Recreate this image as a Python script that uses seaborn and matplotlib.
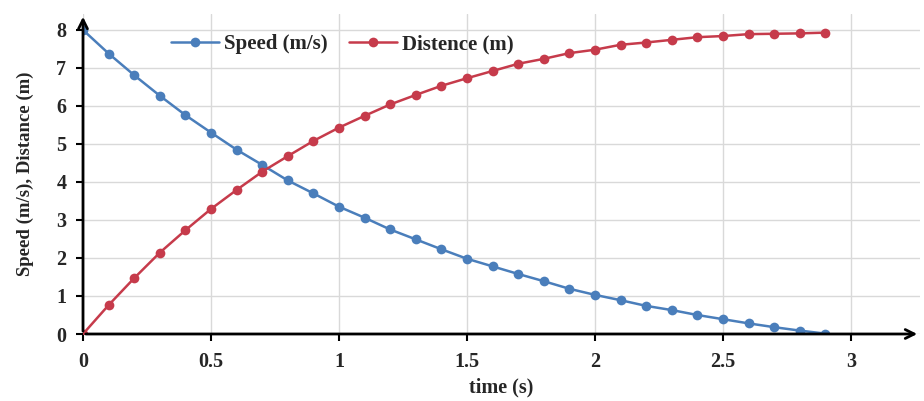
import matplotlib
matplotlib.use("Agg")
import matplotlib.pyplot as plt
import seaborn as sns
import pandas as pd

time = [round(0.1 * i, 1) for i in range(30)]
speed = [8.00, 7.38, 6.81, 6.27, 5.76, 5.30, 4.85, 4.45, 4.04, 3.70,
         3.35, 3.06, 2.75, 2.49, 2.23, 1.98, 1.78, 1.58, 1.39, 1.19,
         1.03, 0.89, 0.74, 0.63, 0.50, 0.39, 0.28, 0.18, 0.09, 0.01]
distance = [0.00, 0.76, 1.47, 2.14, 2.73, 3.29, 3.79, 4.27, 4.68, 5.08,
            5.43, 5.74, 6.04, 6.29, 6.53, 6.73, 6.92, 7.11, 7.24, 7.39,
            7.48, 7.61, 7.67, 7.74, 7.81, 7.84, 7.89, 7.90, 7.91, 7.93]
series_names = ["Speed (m/s)", "Distence (m)"]
x_ticks = [0, 0.5, 1, 1.5, 2, 2.5, 3]
x_tick_labels = ["0", "0.5", "1", "1.5", "2", "2.5", "3"]
y_ticks = [0, 1, 2, 3, 4, 5, 6, 7, 8]

sns.set_style("white")
plt.rcParams['font.family'] = ['Liberation Serif', 'DejaVu Serif']
plt.rcParams['font.weight'] = 'bold'

df = pd.DataFrame({"time": time * 2,
                   "value": speed + distance,
                   "series": [series_names[0]] * len(time) + [series_names[1]] * len(time)})

fig = plt.figure(figsize=(9.24, 4.01), dpi=100)
ax = fig.add_axes([83 / 924, 1 - 334 / 401, (920 - 83) / 924, (334 - 14) / 401])

palette = {series_names[0]: "#4a7ebb", series_names[1]: "#c63b4b"}
sns.lineplot(data=df, x="time", y="value", hue="series", palette=palette,
             marker="o", markersize=7, markeredgewidth=0, linewidth=1.8,
             ax=ax, sort=False, zorder=3)

ax.set_xlim(0, 3.27)
ax.set_ylim(0, 8.42)
ax.set_xticks(x_ticks)
ax.set_xticklabels(x_tick_labels)
ax.set_yticks(y_ticks)
ax.grid(True, color="#d9d9d9", linewidth=1.0, zorder=0)
ax.set_axisbelow(True)

for s in ax.spines.values():
    s.set_visible(False)

ax.annotate("", xy=(1.0, 0), xytext=(0, 0), xycoords="axes fraction",
            arrowprops=dict(arrowstyle="->", color="black", lw=2, mutation_scale=16),
            annotation_clip=False, zorder=5)
ax.annotate("", xy=(0, 1.0), xytext=(0, 0), xycoords="axes fraction",
            arrowprops=dict(arrowstyle="->", color="black", lw=2, mutation_scale=16),
            annotation_clip=False, zorder=5)

ax.tick_params(axis="both", which="both", direction="out", length=5, width=1.5,
               color="black", labelsize=14.5)
ax.tick_params(axis="x", bottom=True, pad=8)
ax.tick_params(axis="y", left=True, pad=7)
for lab in ax.get_xticklabels() + ax.get_yticklabels():
    lab.set_fontweight("bold")

ax.set_xlabel("time (s)", fontsize=14.5, fontweight="bold", labelpad=4)
ax.set_ylabel("Speed (m/s), Distance (m)", fontsize=13.5, fontweight="bold", labelpad=16)

leg = ax.legend(loc="center", bbox_to_anchor=(0.31, 0.905), ncol=2, frameon=False,
                fontsize=15, handlelength=2.3, columnspacing=1.0, handletextpad=0.25)
for t in leg.get_texts():
    t.set_fontweight("bold")

fig.savefig("out.png", dpi=100)
